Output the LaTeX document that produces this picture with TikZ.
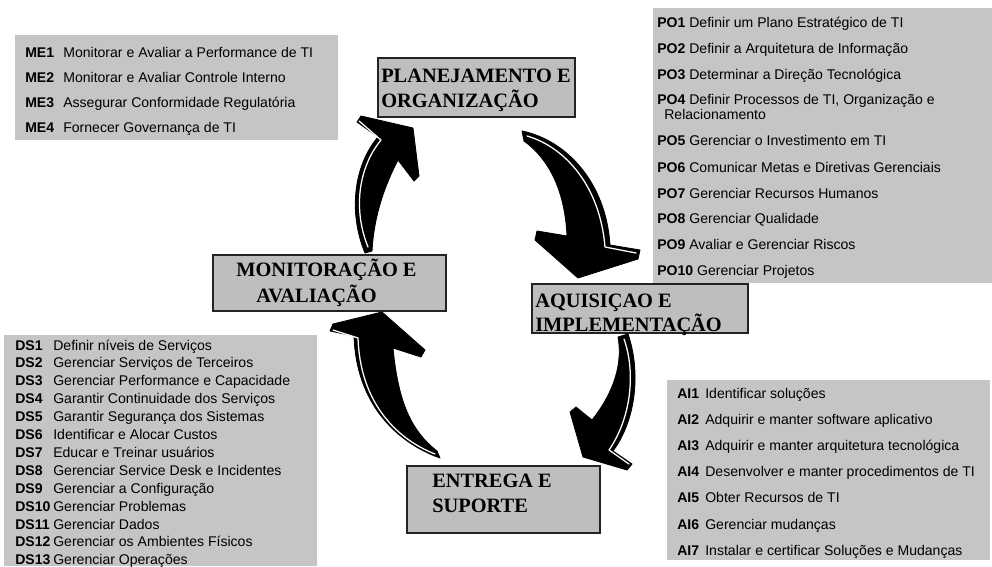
\documentclass[tikz,border=0pt]{standalone}
\usepackage{fontspec}
\setmainfont{Liberation Serif}
\newfontfamily\listfont{Liberation Sans}
\usetikzlibrary{fit}

\definecolor{panelgray}{RGB}{197,197,197}
\definecolor{boxgray}{RGB}{190,190,190}
\definecolor{boxline}{RGB}{35,35,35}

% bold code in a fixed-width column
\newcommand\codecol[2]{\makebox[#1][l]{\bfseries #2}}

\tikzset{
  panel/.style={fill=panelgray, draw=none, inner sep=0pt},
  stagebox/.style={fill=boxgray, draw=boxline, line width=1pt, inner sep=0pt},
  stagetext/.style={anchor=base west, inner sep=0pt,
    font=\fontsize{14.5}{17}\selectfont\bfseries},
  itemtext/.style={anchor=base west, inner sep=0pt,
    font=\listfont\fontsize{10}{12}\selectfont},
  cyclearrow/.style={fill=black, draw=black, line width=0.6pt, line join=round},
  glint/.style={draw=white, line width=0.9pt, line cap=round, line join=round},
}

\begin{document}
\begin{tikzpicture}[x=0.025cm, y=-0.025cm]
  \useasboundingbox (0,0) rectangle (992,566);
  \fill[white] (0,0) rectangle (992,566);

  % ---------- process lists ----------
  \node[panel, fit={(15,35) (338,140)}] (mepanel) {};
  \node[panel, fit={(653,8) (992,283)}] (popanel) {};
  \node[panel, fit={(4,335) (317,566)}] (dspanel) {};
  \node[panel, fit={(667,380) (990,560)}] (aipanel) {};

  % ME
  \foreach \c/\t [count=\i from 0] in {
      ME1/Monitorar e Avaliar a Performance de TI,
      ME2/Monitorar e Avaliar Controle Interno,
      ME3/Assegurar Conformidade Regulatória,
      ME4/Fornecer Governança de TI}
    \node[itemtext] (me\i) at (25,57+25*\i) {\codecol{0.95cm}{\c}\t};

  % PO
  \node[itemtext] (po1) at (657,27)  {\textbf{PO1} Definir um Plano Estratégico de TI};
  \node[itemtext] (po2) at (657,53)  {\textbf{PO2} Definir a Arquitetura de Informação};
  \node[itemtext] (po3) at (657,79)  {\textbf{PO3} Determinar a Direção Tecnológica};
  \node[itemtext] (po4) at (657,104) {\textbf{PO4} Definir Processos de TI, Organização e};
  \node[itemtext] (po4b) at (664,119) {Relacionamento};
  \node[itemtext] (po5) at (657,145) {\textbf{PO5} Gerenciar o Investimento em TI};
  \node[itemtext] (po6) at (657,172) {\textbf{PO6} Comunicar Metas e Diretivas Gerenciais};
  \node[itemtext] (po7) at (657,198) {\textbf{PO7} Gerenciar Recursos Humanos};
  \node[itemtext] (po8) at (657,223) {\textbf{PO8} Gerenciar Qualidade};
  \node[itemtext] (po9) at (657,249) {\textbf{PO9} Avaliar e Gerenciar Riscos};
  \node[itemtext] (po10) at (657,275) {\textbf{PO10} Gerenciar Projetos};

  % DS
  \foreach \c/\t [count=\i from 0] in {
      DS1/Definir níveis de Serviços,
      DS2/Gerenciar Serviços de Terceiros,
      DS3/Gerenciar Performance e Capacidade,
      DS4/Garantir Continuidade dos Serviços,
      DS5/Garantir Segurança dos Sistemas,
      DS6/Identificar e Alocar Custos,
      DS7/Educar e Treinar usuários,
      DS8/Gerenciar Service Desk e Incidentes,
      DS9/Gerenciar a Configuração,
      DS10/Gerenciar Problemas,
      DS11/Gerenciar Dados,
      DS12/Gerenciar os Ambientes Físicos,
      DS13/Gerenciar Operações}
    \node[itemtext] (ds\i) at (15,350+17.9*\i) {\codecol{0.95cm}{\c}\t};

  % AI
  \foreach \c/\t [count=\i from 0] in {
      AI1/Identificar soluções,
      AI2/Adquirir e manter software aplicativo,
      AI3/Adquirir e manter arquitetura tecnológica,
      AI4/Desenvolver e manter procedimentos de TI,
      AI5/Obter Recursos de TI,
      AI6/Gerenciar mudanças,
      AI7/Instalar e certificar Soluções e Mudanças}
    \node[itemtext] (ai\i) at (677,398+26.2*\i) {\codecol{0.7cm}{\c}\t};

  % ---------- domain boxes ----------
  \node[stagebox, fit={(378,58) (575,117)}] (plan) {};
  \node[stagetext] (plan1) at (381,82)  {PLANEJAMENTO E};
  \node[stagetext] (plan2) at (381,107) {ORGANIZAÇÃO};

  \node[stagebox, fit={(213,255) (446,311)}] (mon) {};
  \node[stagetext] (mon1) at (236,276) {MONITORAÇÃO E};
  \node[stagetext] (mon2) at (256,302) {AVALIAÇÃO};

  \node[stagebox, fit={(532,284) (748,333)}] (acq) {};
  \node[stagetext] (acq1) at (535,307) {AQUISIÇAO E};
  \node[stagetext] (acq2) at (535,331) {IMPLEMENTAÇÃO};

  \node[stagebox, fit={(407,466) (600,533)}] (del) {};
  \node[stagetext] (del1) at (432,487) {ENTREGA E};
  \node[stagetext] (del2) at (432,512) {SUPORTE};

  % ---------- cycle arrows ----------
  % planning -> acquisition
  \filldraw[cyclearrow] (522,131) .. controls (566,140) and (606,182) .. (610,245)
    -- (640,250) -- (638,259) -- (578,278) -- (535,240) -- (537,231) -- (567,236)
    .. controls (565,192) and (550,160) .. (524,141) -- cycle;
  \draw[glint] (527,136) .. controls (565,147) and (600,186) .. (605,247) -- (636,253);

  % acquisition -> delivery
  \filldraw[cyclearrow] (618,337) -- (628,334) .. controls (641,372) and (636,420) .. (613,451)
    -- (632,464) -- (627,470) -- (583,457) -- (570,412) -- (576,407) -- (592,420)
    .. controls (608,400) and (624,370) .. (618,337) -- cycle;
  \draw[glint] (624,339) .. controls (636,373) and (631,418) .. (609,450) -- (629,464);

  % delivery -> monitoring
  \filldraw[cyclearrow] (440,458) .. controls (395,442) and (356,402) .. (354,336)
    -- (330,331) -- (333,324) -- (382,312) -- (425,350) -- (421,357) -- (393,348)
    .. controls (398,400) and (410,430) .. (437,451) -- cycle;
  \draw[glint] (435,454) .. controls (394,438) and (360,400) .. (358,338) -- (333,330);

  % monitoring -> planning
  \filldraw[cyclearrow] (365,253) .. controls (348,212) and (354,165) .. (378,137)
    -- (357,122) -- (361,116) -- (413,128) -- (419,176) -- (414,181) -- (398,160)
    .. controls (385,185) and (374,215) .. (372,251) -- cycle;
  \draw[glint] (368,247) .. controls (353,210) and (358,168) .. (381,140) -- (359,121);
\end{tikzpicture}
\end{document}
